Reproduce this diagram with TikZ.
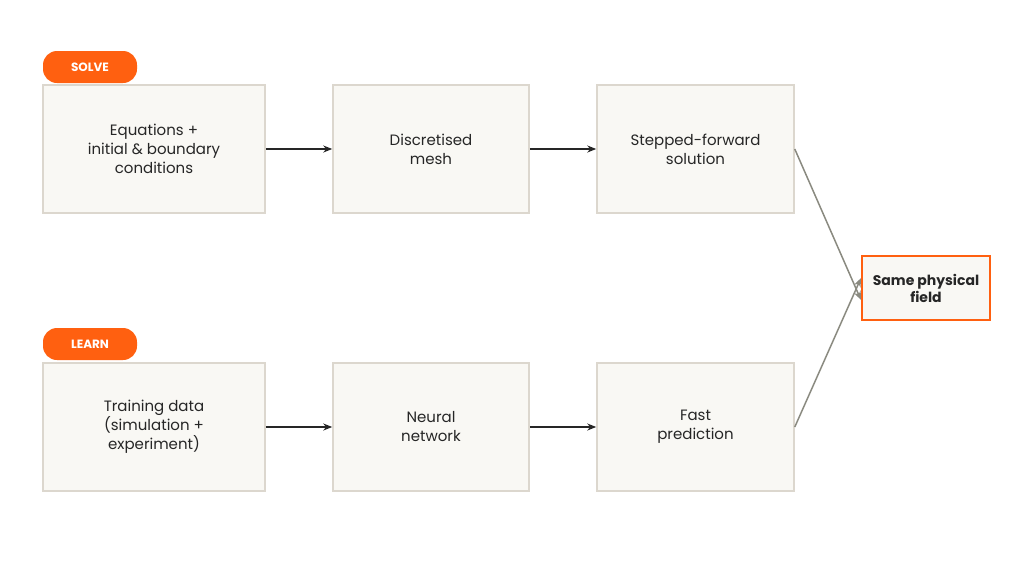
\documentclass[tikz,border=0pt]{standalone}
\usepackage{fontspec}
\setmainfont{Poppins}
\usetikzlibrary{arrows.meta}
\definecolor{boxfill}{HTML}{F9F8F4}
\definecolor{boxline}{HTML}{DCD7CE}
\definecolor{accent}{HTML}{FF6010}
\definecolor{linkgray}{HTML}{8A8A80}
\begin{document}
\begin{tikzpicture}[x=1pt,y=-1pt]
    \tikzstyle{step_style}=[rectangle, draw=boxline, line width=1.5pt, fill=boxfill, minimum height=128pt, align=center, font=\fontsize{15}{19}\selectfont, text=black!85]
    \tikzstyle{tag_style}=[rectangle, rounded corners=14pt, fill=accent, text=white, minimum width=94pt, minimum height=32pt, font=\fontsize{12}{14}\selectfont\bfseries]
    \tikzstyle{flow_style}=[-{Stealth[length=9pt,width=7pt]}, line width=1.5pt, black!85]
    \tikzstyle{join_style}=[-{Stealth[length=9pt,width=7pt]}, line width=1.5pt, linkgray]

    \useasboundingbox (0,0) rectangle (1024,576);

    % solve row
    \node at (90, 67) [tag_style] (tag_solve) {SOLVE};
    \node at (154, 149) [step_style, minimum width=222pt] (solve_0) {Equations +\\initial \& boundary\\conditions};
    \node at (431, 149) [step_style, minimum width=196pt] (solve_1) {Discretised\\mesh};
    \node at (695.5, 149) [step_style, minimum width=197pt] (solve_2) {Stepped-forward\\solution};

    % learn row
    \node at (90, 344) [tag_style] (tag_learn) {LEARN};
    \node at (154, 427) [step_style, minimum width=222pt] (learn_0) {Training data\\(simulation +\\experiment)};
    \node at (431, 427) [step_style, minimum width=196pt] (learn_1) {Neural\\network};
    \node at (695.5, 427) [step_style, minimum width=197pt] (learn_2) {Fast\\prediction};

    % output
    \node at (926, 288) [rectangle, draw=accent, line width=2pt, fill=boxfill, minimum width=128pt, minimum height=64pt, align=center, font=\fontsize{14}{17}\selectfont\bfseries, text=black!85] (field) {Same physical\\field};

    % connect: rows
    \foreach \i/\j in {0/1,1/2} {
      \draw[flow_style] (solve_\i) -- (solve_\j);
      \draw[flow_style] (learn_\i) -- (learn_\j);
    }

    % connect: rows -> output
    \draw[join_style] (solve_2.east) -- ([yshift=-12pt]field.west);
    \draw[join_style] (learn_2.east) -- ([yshift=10pt]field.west);
\end{tikzpicture}
\end{document}
